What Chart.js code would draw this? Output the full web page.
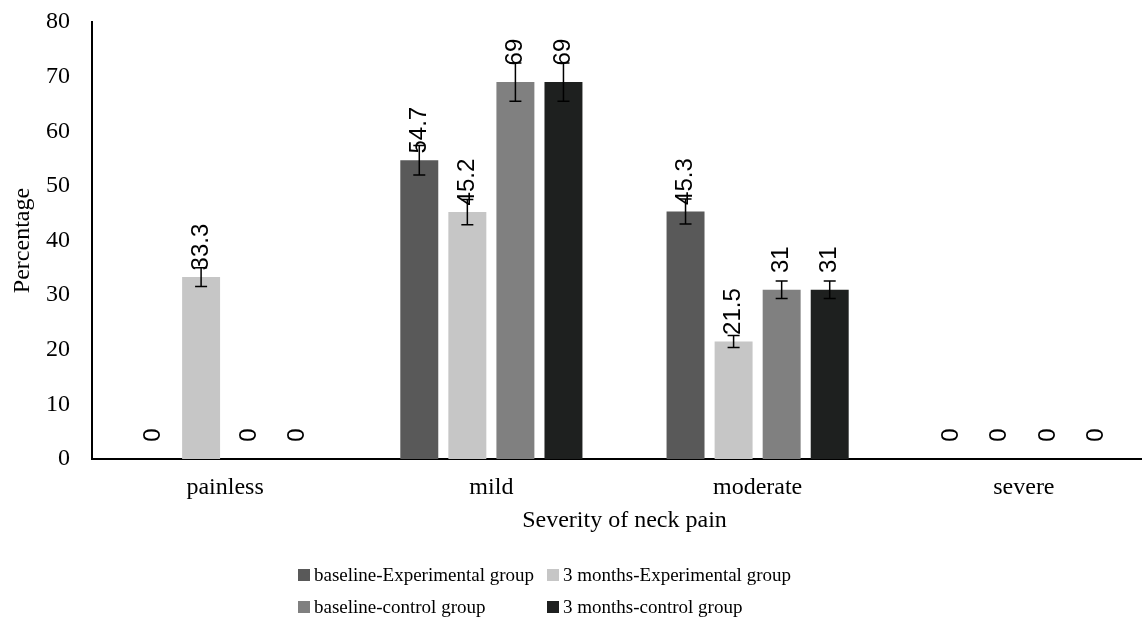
<!DOCTYPE html>
<html>
<head>
<meta charset="utf-8">
<script src="https://cdn.jsdelivr.net/npm/chart.js@4.4.1/dist/chart.umd.min.js"></script>
<style>
  html, body { margin: 0; padding: 0; background: #fff; overflow: hidden; }
</style>
</head>
<body>
<canvas id="myChart" width="1160" height="623"></canvas>
<script>
// categories on the x axis
const categories = ['painless', 'mild', 'moderate', 'severe'];

// percentages per group
const baselineExp = [0, 54.7, 45.3, 0];
const monthsExp = [33.3, 45.2, 21.5, 0];
const baselineCtrl = [0, 69, 31, 0];
const monthsCtrl = [0, 69, 31, 0];

// error bar half-lengths
const errBaselineExp = [0, 2.7, 2.3, 0];
const errMonthsExp = [1.7, 2.3, 1.1, 0];
const errBaselineCtrl = [0, 3.5, 1.6, 0];
const errMonthsCtrl = [0, 3.5, 1.6, 0];

const yTicks = [0, 10, 20, 30, 40, 50, 60, 70, 80];

const serif = "'Liberation Serif', 'Times New Roman', serif";
const sans = "'Liberation Sans', Arial, sans-serif";

const ctx = document.getElementById('myChart').getContext('2d');

// error bars and rotated value labels
const barExtras = {
    id: 'barExtras',
    afterDatasetsDraw(chart) {
        const c = chart.ctx;
        const y = chart.scales.y;
        chart.data.datasets.forEach((ds, i) => {
            const meta = chart.getDatasetMeta(i);
            meta.data.forEach((bar, j) => {
                const v = ds.data[j];
                const e = ds.errors[j];
                c.save();
                if (e > 0) {
                    const top = y.getPixelForValue(v + e);
                    const bot = y.getPixelForValue(v - e);
                    c.strokeStyle = '#000';
                    c.lineWidth = 1.5;
                    c.beginPath();
                    c.moveTo(bar.x, top); c.lineTo(bar.x, bot);
                    c.moveTo(bar.x - 6, top); c.lineTo(bar.x + 6, top);
                    c.moveTo(bar.x - 6, bot); c.lineTo(bar.x + 6, bot);
                    c.stroke();
                }
                c.translate(bar.x, bar.y - (v > 0 ? 30 : 24));
                c.rotate(-Math.PI / 2);
                c.fillStyle = '#000';
                c.font = '24px ' + sans;
                c.textAlign = 'center';
                c.textBaseline = 'middle';
                c.fillText(String(v), 0, 0);
                c.restore();
            });
        });
    }
};

// two column legend under the axis title
const gridLegend = {
    id: 'gridLegend',
    afterDraw(chart) {
        const c = chart.ctx;
        const cols = [298, 547];
        const rows = [chart.height - 48, chart.height - 16];
        c.save();
        c.font = '19px ' + serif;
        c.textBaseline = 'middle';
        c.textAlign = 'left';
        chart.data.datasets.forEach((ds, i) => {
            const x = cols[i % 2];
            const yy = rows[Math.floor(i / 2)];
            c.fillStyle = ds.backgroundColor;
            c.fillRect(x, yy - 6, 12, 12);
            c.fillStyle = '#000';
            c.fillText(ds.label, x + 16, yy + 1);
        });
        c.restore();
    }
};

const data = {
    labels: categories,
    datasets: [{
        label: 'baseline-Experimental group',
        data: baselineExp,
        errors: errBaselineExp,
        backgroundColor: '#595959'
    },
    {
        label: '3 months-Experimental group',
        data: monthsExp,
        errors: errMonthsExp,
        backgroundColor: '#c6c6c6'
    },
    {
        label: 'baseline-control group',
        data: baselineCtrl,
        errors: errBaselineCtrl,
        backgroundColor: '#808080'
    },
    {
        label: '3 months-control group',
        data: monthsCtrl,
        errors: errMonthsCtrl,
        backgroundColor: '#1e201f'
    }]
};

const myChart = new Chart(ctx, {
    type: 'bar',
    data: data,
    options: {
        responsive: false,
        animation: false,
        categoryPercentage: 0.722,
        barPercentage: 0.79,
        layout: {
            padding: { top: 22, right: 3, bottom: 88, left: 0 }
        },
        scales: {
            y: {
                min: 0,
                max: 80,
                afterBuildTicks: axis => { axis.ticks = yTicks.map(v => ({ value: v })); },
                afterFit: axis => {
                    axis.width = 92;
                    axis.paddingTop = 0;
                    axis.paddingBottom = 0;
                },
                grid: { display: false, drawTicks: false },
                border: { display: true, color: '#000', width: 2 },
                ticks: {
                    padding: 22,
                    color: '#000',
                    font: { family: serif, size: 24 }
                },
                title: {
                    display: true,
                    text: 'Percentage',
                    color: '#000',
                    padding: { top: 8, bottom: 8 },
                    font: { family: serif, size: 24 }
                }
            },
            x: {
                afterFit: axis => { axis.height = 76; },
                grid: { display: false, drawTicks: false },
                border: { display: true, color: '#000', width: 2 },
                ticks: {
                    padding: 14,
                    color: '#000',
                    font: { family: serif, size: 24 }
                },
                title: {
                    display: true,
                    text: 'Severity of neck pain',
                    color: '#000',
                    padding: { top: 0, bottom: 0 },
                    font: { family: serif, size: 24 }
                }
            }
        },
        plugins: {
            legend: { display: false },
            tooltip: { enabled: false }
        }
    },
    plugins: [barExtras, gridLegend]
});
</script>
</body>
</html>
